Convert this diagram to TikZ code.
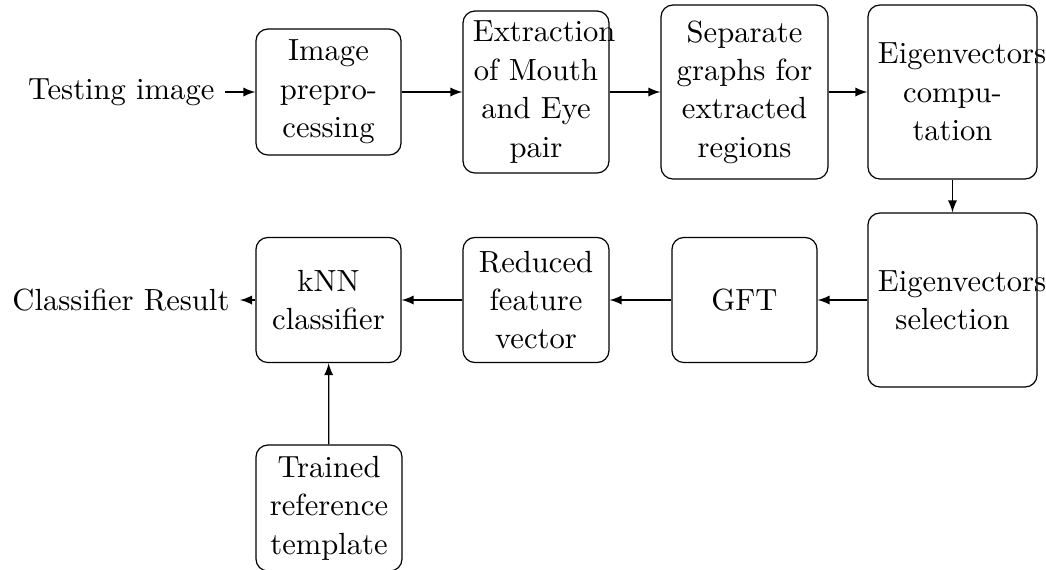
\documentclass[tikz,border=0pt]{standalone}
\usetikzlibrary{arrows}
\begin{document}
\begin{tikzpicture}[x=0.3333pt, y=-0.3333pt,
  blk/.style={draw, rounded corners=4pt, align=center, inner sep=3.33pt,
    font=\fontsize{10.2}{12.8}\selectfont},
  lbl/.style={inner sep=3.33pt, font=\fontsize{10.2}{12.8}\selectfont},
  flow/.style={-latex, line width=0.4pt}]
\useasboundingbox (0,0) rectangle (1046,569);

% top row
\node[lbl, anchor=east] (in) at (225,92) {Testing image};
\node[blk, text width=41.7pt, minimum height=42pt] (pre) at (328.5,92) {Image\\prepro-\\cessing};
\node[blk, text width=42pt, minimum height=54pt] (ext) at (536,92) {\mbox{Extraction}\\of Mouth\\and Eye\\pair};
\node[blk, text width=49pt, minimum height=58pt] (grp) at (744.5,92) {Separate\\graphs for\\extracted\\regions};
\node[blk, text width=49.7pt, minimum height=58pt] (comp) at (952.5,92) {\mbox{Eigenvectors}\\compu-\\tation};

% bottom row
\node[blk, text width=49.7pt, minimum height=58pt] (sel) at (952.5,300) {\mbox{Eigenvectors}\\selection};
\node[blk, text width=41.7pt, minimum height=41.7pt] (gft) at (744.5,300) {GFT};
\node[blk, text width=42pt, minimum height=41.7pt] (red) at (536,300) {Reduced\\feature\\vector};
\node[blk, text width=41.7pt, minimum height=41.7pt] (knn) at (328.5,300) {kNN\\classifier};
\node[lbl, anchor=east] (res) at (240,300) {Classifier Result};

% training input
\node[blk, text width=42pt, minimum height=42pt] (tpl) at (329,508) {Trained\\reference\\template};

% connectors
\draw[flow] (in) -- (pre);
\draw[flow] (pre) -- (ext);
\draw[flow] (ext) -- (grp);
\draw[flow] (grp) -- (comp);
\draw[flow] (comp) -- (sel);
\draw[flow] (sel) -- (gft);
\draw[flow] (gft) -- (red);
\draw[flow] (red) -- (knn);
\draw[flow] (knn) -- (res);
\draw[flow] (tpl) -- (knn);
\end{tikzpicture}
\end{document}
